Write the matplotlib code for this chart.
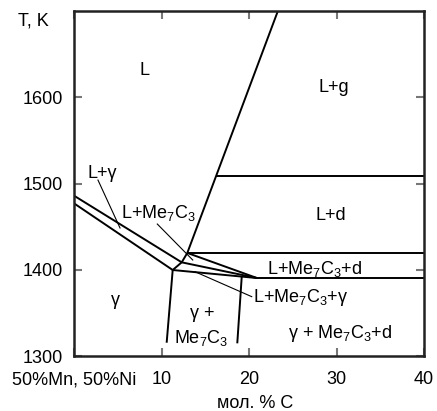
import matplotlib
matplotlib.use("Agg")
import matplotlib.pyplot as plt

plt.rcParams['font.family'] = ['Liberation Sans', 'DejaVu Sans']
plt.rcParams['mathtext.fontset'] = 'custom'
plt.rcParams['mathtext.rm'] = 'Liberation Sans'
plt.rcParams['mathtext.it'] = 'Liberation Sans'
plt.rcParams['mathtext.default'] = 'regular'

# ---- data (mol. % C, T in K) ----
x_ticks = [0, 10, 20, 30, 40]
x_ticklabels = ["50%Mn, 50%Ni", "10", "20", "30", "40"]
y_ticks = [1300, 1400, 1500, 1600]
y_ticklabels = ["1300", "1400", "1500", "1600"]

# phase boundary polylines
liquidus_C = [23.3, 12.95, 12.31, 11.28]
liquidus_T = [1700, 1419.5, 1408.6, 1399.7]
upper_left_C = [0, 12.31]
upper_left_T = [1485.9, 1408.6]
lower_left_C = [0, 11.28]
lower_left_T = [1477.0, 1399.7]
iso_1510_C = [16.24, 40]
iso_1510_T = [1509, 1509]
iso_1420_C = [12.95, 40]
iso_1420_T = [1419.5, 1419.5]
iso_1390_C = [20.91, 40]
iso_1390_T = [1390.4, 1390.4]
a_to_p_C = [12.95, 20.91]
a_to_p_T = [1419.5, 1390.4]
b_to_p_C = [12.31, 20.91]
b_to_p_T = [1408.6, 1390.4]
c_to_p_C = [11.28, 20.91]
c_to_p_T = [1399.7, 1390.4]
left_solvus_C = [11.28, 10.59]
left_solvus_T = [1399.7, 1315.4]
right_solvus_C = [19.17, 18.66]
right_solvus_T = [1392.1, 1314.7]

# leader lines
leader1_C = [2.74, 5.26]
leader1_T = [1504, 1448.4]
leader2_C = [9.52, 13.57]
leader2_T = [1453, 1411.3]
leader3_C = [13.83, 20.31]
leader3_T = [1397.7, 1368.8]

# region labels: (text, C, T, ha)
labels = [
    ("L", 8.11, 1625.8, 'center'),
    ("L+g", 29.7, 1605.7, 'center'),
    ("L+d", 29.4, 1457.7, 'center'),
    ("L+Me$_7$C$_3$+d", 27.5, 1395.0, 'center'),
    ("L+Me$_7$C$_3$+γ", 20.5, 1363.0, 'left'),
    ("γ + Me$_7$C$_3$+d", 30.4, 1320.4, 'center'),
    ("γ", 4.69, 1359.0, 'center'),
    ("γ +", 14.6, 1344.0, 'center'),
    ("Me$_7$C$_3$", 14.5, 1315.4, 'center'),
    ("L+γ", 3.2, 1506.0, 'center'),
    ("L+Me$_7$C$_3$", 9.6, 1459.6, 'center'),
]

W, H = 437, 411
fig = plt.figure(figsize=(W / 100, H / 100), dpi=100)
ax = fig.add_axes([74 / W, (H - 356) / H, 350 / W, 345 / H])
ax.set_xlim(0, 40)
ax.set_ylim(1300, 1700)

lw = 1.4
for cs, ts in [(liquidus_C, liquidus_T), (upper_left_C, upper_left_T),
               (lower_left_C, lower_left_T), (iso_1510_C, iso_1510_T),
               (iso_1420_C, iso_1420_T), (iso_1390_C, iso_1390_T),
               (a_to_p_C, a_to_p_T), (b_to_p_C, b_to_p_T), (c_to_p_C, c_to_p_T),
               (left_solvus_C, left_solvus_T), (right_solvus_C, right_solvus_T)]:
    ax.plot(cs, ts, color='black', lw=lw, solid_capstyle='butt')

for cs, ts in [(leader1_C, leader1_T), (leader2_C, leader2_T), (leader3_C, leader3_T)]:
    ax.plot(cs, ts, color='black', lw=0.8)

for txt, c, t, ha in labels:
    ax.text(c, t, txt, ha=ha, va='baseline', fontsize=13, color='black')

for s in ax.spines.values():
    s.set_linewidth(1.8)
    s.set_color('#222222')

ax.set_xticks(x_ticks)
ax.set_xticklabels(x_ticklabels, fontsize=13)
ax.set_yticks(y_ticks)
ax.set_yticklabels(y_ticklabels, fontsize=13)
ax.tick_params(axis='both', direction='in', length=6, width=1.5, color='#777777',
               top=True, right=True)
ax.tick_params(axis='x', pad=11)
ax.tick_params(axis='y', pad=8)

fig.text(33 / W, 1 - 21 / H, "T, K", ha='center', va='center', fontsize=13)
fig.text(255 / W, 1 - 403 / H, "мол. % C", ha='center', va='center', fontsize=13)

fig.savefig("out.png", dpi=100)
